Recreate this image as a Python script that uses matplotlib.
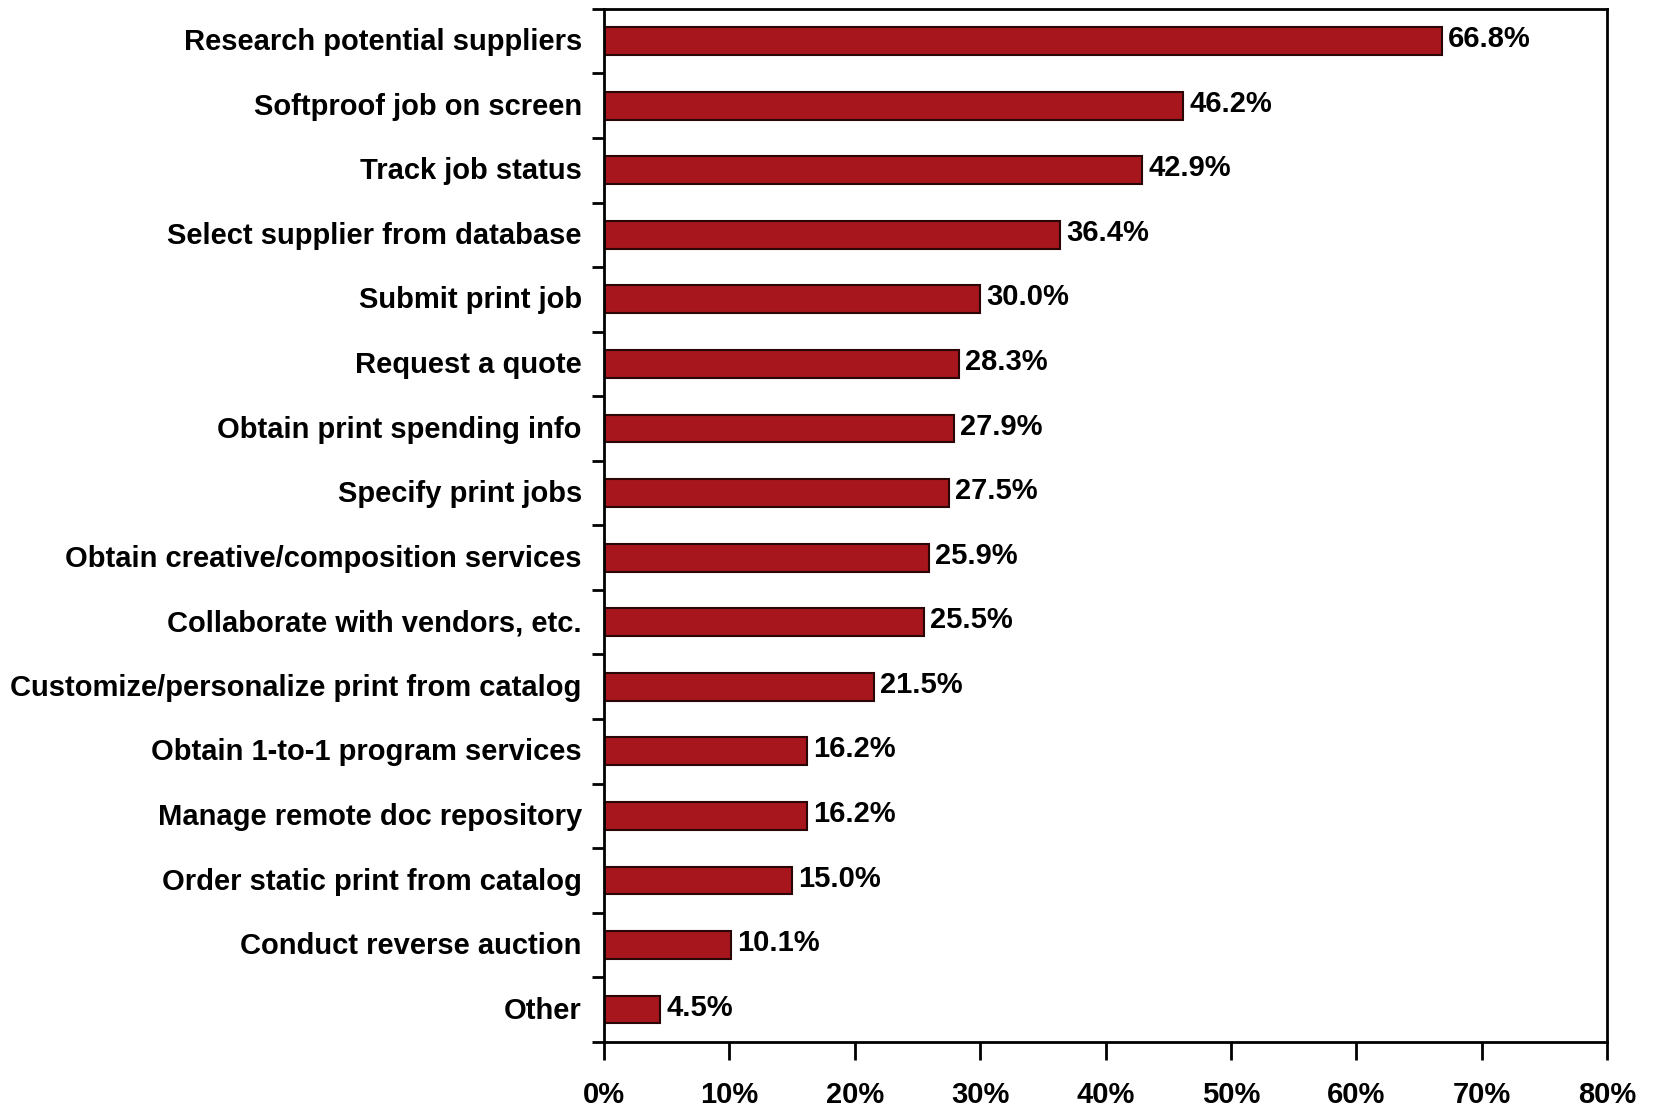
import numpy as np
import matplotlib
matplotlib.use("Agg")
from matplotlib import pyplot as plt
from matplotlib.ticker import FixedLocator, NullFormatter

# data, top to bottom as in the chart
categories = [
    "Research potential suppliers",
    "Softproof job on screen",
    "Track job status",
    "Select supplier from database",
    "Submit print job",
    "Request a quote",
    "Obtain print spending info",
    "Specify print jobs",
    "Obtain creative/composition services",
    "Collaborate with vendors, etc.",
    "Customize/personalize print from catalog",
    "Obtain 1-to-1 program services",
    "Manage remote doc repository",
    "Order static print from catalog",
    "Conduct reverse auction",
    "Other",
]
values = [66.8, 46.2, 42.9, 36.4, 30.0, 28.3, 27.9, 27.5, 25.9, 25.5,
          21.5, 16.2, 16.2, 15.0, 10.1, 4.5]
x_ticks = [0, 10, 20, 30, 40, 50, 60, 70, 80]

plt.rcParams['font.family'] = ['Liberation Sans', 'DejaVu Sans']
plt.rcParams['font.weight'] = 'bold'
fsize = 21

fig = plt.figure(figsize=(16.57, 11.06), dpi=100)
ax = fig.add_axes([0.3645, 0.058, 0.6055, 0.934])

y = np.arange(len(categories))
ax.barh(y, values, height=0.43, color='#A6161C', edgecolor='#2a0606', linewidth=1.5)

for yi, v in zip(y, values):
    ax.text(v + 0.5, yi - 0.03, "%.1f%%" % v, va='center', ha='left', fontsize=fsize, fontweight='bold')

ax.set_xlim(0, 80)
ax.set_ylim(len(categories) - 0.5, -0.5)

ax.set_yticks(y - 0.03)
ax.set_yticklabels(categories, fontsize=fsize, fontweight='bold')
ax.tick_params(axis='y', which='major', length=0, pad=16)
ax.yaxis.set_minor_locator(FixedLocator(np.arange(-0.5, len(categories), 1.0)))
ax.yaxis.set_minor_formatter(NullFormatter())
ax.tick_params(axis='y', which='minor', length=9, width=2, direction='out')

ax.set_xticks(x_ticks)
ax.set_xticklabels(["%d%%" % t for t in x_ticks], fontsize=fsize, fontweight='bold')
ax.tick_params(axis='x', length=13, width=2, direction='out', pad=15)

for s in ax.spines.values():
    s.set_linewidth(2)

fig.savefig("out.png", dpi=100)
